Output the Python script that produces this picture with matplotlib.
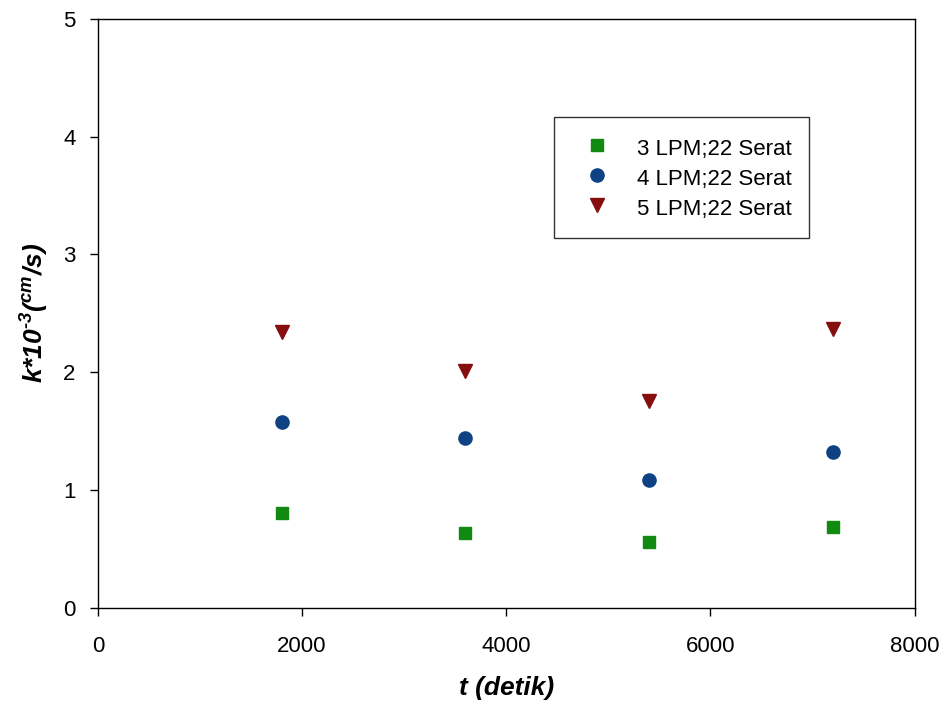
import numpy as np
import matplotlib
matplotlib.use('Agg')
import matplotlib.pyplot as plt

plt.rcParams['font.family'] = ['Liberation Sans', 'DejaVu Sans']
plt.rcParams['mathtext.fontset'] = 'custom'
plt.rcParams['mathtext.rm'] = 'Liberation Sans:italic:bold'
plt.rcParams['mathtext.it'] = 'Liberation Sans:italic:bold'
plt.rcParams['mathtext.bf'] = 'Liberation Sans:italic:bold'

# data
t = [1800, 3600, 5400, 7200]
k_3lpm = [0.81, 0.64, 0.56, 0.69]
k_4lpm = [1.58, 1.44, 1.09, 1.32]
k_5lpm = [2.34, 2.01, 1.76, 2.37]
labels = ['3 LPM;22 Serat', '4 LPM;22 Serat', '5 LPM;22 Serat']

fig = plt.figure(figsize=(9.41, 7.09), dpi=100)
ax = fig.add_axes([0.104, 0.1425, 0.868, 0.831])

ax.plot(t, k_3lpm, 's', color='#108a10', markersize=9, label=labels[0])
ax.plot(t, k_4lpm, 'o', color='#0f4283', markersize=9.5, label=labels[1])
ax.plot(t, k_5lpm, 'v', color='#850f0f', markersize=10, label=labels[2])

ax.set_xlim(0, 8000)
ax.set_ylim(0, 5)
ax.set_xticks([0, 2000, 4000, 6000, 8000])
ax.set_yticks([0, 1, 2, 3, 4, 5])
ax.tick_params(direction='out', length=6, width=1, labelsize=16, color='black')
ax.tick_params(axis='x', pad=14)
ax.tick_params(axis='y', pad=10)
for s in ax.spines.values():
    s.set_linewidth(1)
    s.set_color('black')

ax.set_xlabel('t (detik)', fontsize=19, fontweight='bold', style='italic', labelpad=14)
ax.set_ylabel(r'k*10$^{\text{-3}}$($^{cm}$/s)', fontsize=19, fontweight='bold', style='italic', labelpad=9)

leg = ax.legend(loc='upper left', bbox_to_anchor=(0.559, 0.833), frameon=True, fancybox=False,
                edgecolor='black', fontsize=16, borderpad=0.8, handletextpad=0.7,
                labelspacing=0.25, handleheight=1.3, borderaxespad=0, handlelength=2.2)
leg.get_frame().set_linewidth(1)

fig.savefig('out.png', dpi=100)
